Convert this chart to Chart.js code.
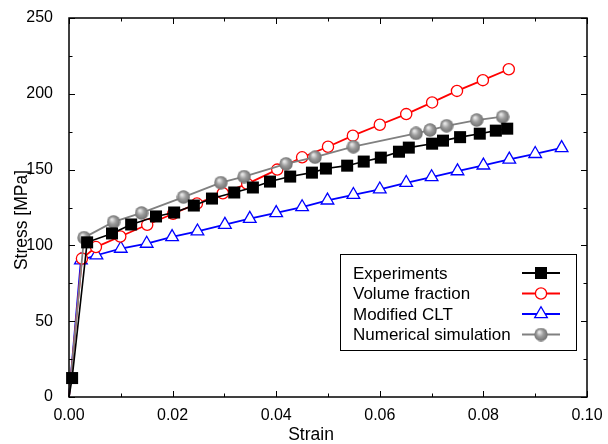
<!DOCTYPE html>
<html><head><meta charset="utf-8">
<script src="https://cdn.jsdelivr.net/npm/chart.js@4/dist/chart.umd.min.js"></script>
<style>html,body{margin:0;padding:0;background:#fff}</style>
</head><body>
<canvas id="c" width="608" height="444"></canvas>
<script>
// ---- data ----
const xTickValues = [0, 0.02, 0.04, 0.06, 0.08, 0.10];
const yTickValues = [0, 50, 100, 150, 200, 250];
const seriesNames = ["Experiments", "Volume fraction", "Modified CLT", "Numerical simulation"];

const expStrain = [0, 0.0006, 0.0035, 0.0083, 0.0120, 0.0168, 0.0203, 0.0241, 0.0276, 0.0319, 0.0355, 0.0388, 0.0427, 0.0469, 0.0496, 0.0537, 0.0569, 0.0602, 0.0637, 0.0656, 0.0701, 0.0722, 0.0755, 0.0793, 0.0824, 0.0846, 0.0857];
const expStress = [0, 12.5, 102.0, 107.9, 113.8, 119.1, 121.7, 126.3, 130.9, 134.9, 138.2, 142.1, 145.4, 148.0, 150.7, 152.6, 155.3, 157.9, 161.8, 164.5, 167.1, 169.1, 171.4, 173.7, 175.7, 177.0, 177.3];

const vfStrain = [0, 0.0025, 0.0052, 0.0099, 0.0151, 0.0201, 0.0247, 0.0297, 0.0344, 0.0402, 0.0450, 0.0500, 0.0548, 0.0600, 0.0651, 0.0701, 0.0749, 0.0799, 0.0849];
const vfStress = [0, 91.3, 98.9, 105.9, 113.6, 120.9, 127.6, 134.4, 140.6, 150.0, 158.1, 165.1, 172.4, 179.6, 186.6, 194.3, 201.9, 209.0, 216.2];

const cltStrain = [0, 0.0023, 0.0053, 0.0100, 0.0150, 0.0199, 0.0248, 0.0301, 0.0349, 0.0400, 0.0450, 0.0499, 0.0549, 0.0600, 0.0651, 0.0700, 0.0750, 0.0800, 0.0850, 0.0900, 0.0951];
const cltStress = [0, 90.2, 93.5, 97.9, 101.2, 105.6, 109.3, 113.7, 117.6, 121.4, 125.3, 129.7, 133.4, 137.0, 141.3, 145.1, 149.0, 152.8, 156.7, 160.4, 164.3];

const simStrain = [0, 0.0029, 0.0086, 0.0140, 0.0221, 0.0293, 0.0338, 0.0419, 0.0475, 0.0549, 0.0670, 0.0697, 0.0729, 0.0787, 0.0837];
const simStress = [0, 105.1, 115.5, 121.4, 131.9, 141.4, 145.4, 153.8, 158.2, 165.1, 173.9, 176.1, 178.9, 182.7, 184.9];

// ---- helpers ----
const pts = (xs, ys) => xs.map((x, i) => ({x: x, y: ys[i]}));
function makeBall(d) {
  const c = document.createElement('canvas'); c.width = c.height = d;
  const g = c.getContext('2d'); const r = d / 2;
  const grd = g.createRadialGradient(r * 0.75, r * 0.65, r * 0.1, r, r, r);
  grd.addColorStop(0, '#e6e6e6'); grd.addColorStop(0.45, '#9c9c9c'); grd.addColorStop(1, '#6c6c6c');
  g.fillStyle = grd; g.beginPath(); g.arc(r, r, r - 0.3, 0, Math.PI * 2); g.fill();
  return c;
}
const ball = makeBall(14);
const FONT = '"Liberation Sans", Arial, sans-serif';

function drawMarker(ctx, kind, x, y) {
  ctx.save();
  if (kind === 'sq') { ctx.fillStyle = '#000'; ctx.fillRect(x - 6, y - 6, 12, 12); }
  else if (kind === 'ci') { ctx.fillStyle = '#fff'; ctx.strokeStyle = '#ff0000'; ctx.lineWidth = 1.3; ctx.beginPath(); ctx.arc(x, y, 5.6, 0, Math.PI * 2); ctx.fill(); ctx.stroke(); }
  else if (kind === 'tr') { const r = 7.3; ctx.fillStyle = '#fff'; ctx.strokeStyle = '#0000ff'; ctx.lineWidth = 1.3; ctx.beginPath();
    ctx.moveTo(x, y - r); ctx.lineTo(x + r * 0.866, y + r / 2); ctx.lineTo(x - r * 0.866, y + r / 2); ctx.closePath(); ctx.fill(); ctx.stroke(); }
  else if (kind === 'ba') { ctx.drawImage(ball, x - 7, y - 7); }
  ctx.restore();
}

const framePlugin = {
  id: 'frame',
  afterDatasetsDraw(chart) {
    const {ctx, chartArea: a, scales: {x, y}} = chart;
    ctx.save();
    ctx.strokeStyle = '#000'; ctx.lineWidth = 1;
    ctx.beginPath();
    for (let i = 0; i <= 10; i++) {
      const px = Math.round(x.getPixelForValue(i * 0.01)) + 0.5;
      const len = i % 2 === 0 ? 6 : 3.5;
      ctx.moveTo(px, a.bottom); ctx.lineTo(px, a.bottom - len);
      ctx.moveTo(px, a.top); ctx.lineTo(px, a.top + len);
    }
    for (let i = 0; i <= 10; i++) {
      const py = Math.round(y.getPixelForValue(i * 25)) + 0.5;
      const len = i % 2 === 0 ? 6 : 3.5;
      ctx.moveTo(a.left, py); ctx.lineTo(a.left + len, py);
      ctx.moveTo(a.right, py); ctx.lineTo(a.right - len, py);
    }
    ctx.stroke();
    ctx.lineWidth = 1.5;
    ctx.strokeRect(a.left, a.top, a.right - a.left, a.bottom - a.top);

    // axis titles
    ctx.fillStyle = '#000';
    ctx.font = '17.5px ' + FONT;
    ctx.textAlign = 'center'; ctx.textBaseline = 'alphabetic';
    ctx.fillText('Strain', 311, 440);
    ctx.save(); ctx.translate(26.5, 220); ctx.rotate(-Math.PI / 2);
    ctx.fillText('Stress [MPa]', 0, 0); ctx.restore();

    // legend
    const bx = 340.5, by = 254.5, bw = 236, bh = 96;
    ctx.fillStyle = '#fff'; ctx.fillRect(bx, by, bw, bh);
    ctx.lineWidth = 1; ctx.strokeStyle = '#000'; ctx.strokeRect(bx, by, bw, bh);
    const rows = [273, 293.5, 314, 334.5];
    const cols = ['#000', '#ff0000', '#0000ff', '#808080'];
    const kinds = ['sq', 'ci', 'tr', 'ba'];
    ctx.textAlign = 'left'; ctx.textBaseline = 'middle'; ctx.font = '17px ' + FONT;
    seriesNames.forEach((n, i) => {
      ctx.fillStyle = '#000'; ctx.fillText(n, 353, rows[i] + 1);
      ctx.strokeStyle = cols[i]; ctx.lineWidth = 1.8;
      ctx.beginPath(); ctx.moveTo(522, rows[i]); ctx.lineTo(560, rows[i]); ctx.stroke();
      drawMarker(ctx, kinds[i], 541, rows[i]);
    });
    ctx.restore();
  }
};

const endless = (n) => (c) => (c.dataIndex === 0 ? 0 : n);

new Chart(document.getElementById('c'), {
  type: 'scatter',
  data: {
    datasets: [
      { label: seriesNames[0], data: pts(expStrain, expStress), showLine: true, borderColor: '#000', borderWidth: 1.6,
        pointStyle: 'rect', backgroundColor: '#000', pointBorderColor: '#000', pointBorderWidth: 0,
        pointRadius: (c) => (c.dataIndex === 0 || c.dataIndex === expStrain.length - 1 ? 0 : 8.5), order: 0, clip: false },
      { label: seriesNames[1], data: pts(vfStrain, vfStress), showLine: true, borderColor: '#ff0000', borderWidth: 1.8,
        pointStyle: 'circle', backgroundColor: '#fff', pointBorderColor: '#ff0000', pointBorderWidth: 1.3,
        pointRadius: endless(5.6), order: 2, clip: false },
      { label: seriesNames[2], data: pts(cltStrain, cltStress), showLine: true, borderColor: '#0000ff', borderWidth: 1.8,
        pointStyle: 'triangle', backgroundColor: '#fff', pointBorderColor: '#0000ff', pointBorderWidth: 1.3,
        pointRadius: endless(7.3), order: 3, clip: false },
      { label: seriesNames[3], data: pts(simStrain, simStress), showLine: true, borderColor: '#808080', borderWidth: 1.8,
        pointStyle: ball, backgroundColor: '#909090', pointRadius: endless(7), order: 1, clip: false }
    ]
  },
  options: {
    responsive: false, animation: false, devicePixelRatio: 1,
    layout: { padding: { left: 0, top: 18, right: 21, bottom: 0 } },
    plugins: { legend: { display: false }, tooltip: { enabled: false } },
    elements: { line: { tension: 0 } },
    scales: {
      x: { type: 'linear', min: 0, max: 0.1,
        afterFit: (s) => { s.height = 47; },
        afterBuildTicks: (s) => { s.ticks = xTickValues.map(v => ({value: v})); },
        ticks: { color: '#000', padding: 1, font: { family: FONT, size: 16 }, maxRotation: 0, callback: (v) => Number(v).toFixed(2) },
        grid: { display: false }, border: { display: false } },
      y: { type: 'linear', min: 0, max: 250,
        afterFit: (s) => { s.width = 69; },
        afterBuildTicks: (s) => { s.ticks = yTickValues.map(v => ({value: v})); },
        ticks: { color: '#000', padding: 8, font: { family: FONT, size: 16 } },
        grid: { display: false }, border: { display: false } }
    }
  },
  plugins: [framePlugin]
});
</script>
</body></html>
